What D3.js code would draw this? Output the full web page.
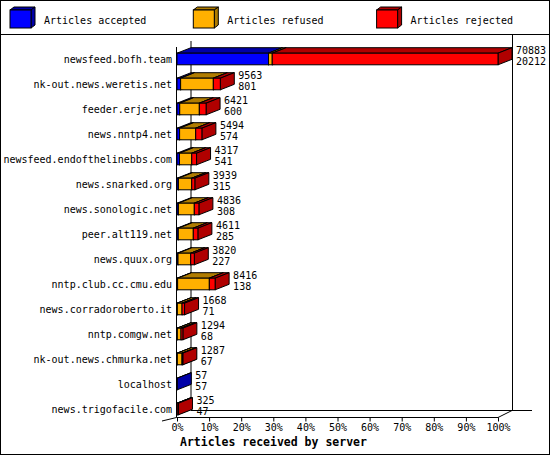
<!DOCTYPE html>
<meta charset="utf-8">
<script src="https://d3js.org/d3.v7.min.js"></script>
<style>
  body { margin: 0; background: #fff; }
  text { font-family: "DejaVu Sans Mono", "Liberation Mono", monospace; font-size: 10px; fill: #000; }
</style>
<div id="chart"></div>
<script>

// servers, top to bottom
var servers = ["newsfeed.bofh.team", "nk-out.news.weretis.net", "feeder.erje.net", "news.nntp4.net",
  "newsfeed.endofthelinebbs.com", "news.snarked.org", "news.sonologic.net", "peer.alt119.net",
  "news.quux.org", "nntp.club.cc.cmu.edu", "news.corradoroberto.it", "nntp.comgw.net",
  "nk-out.news.chmurka.net", "localhost", "news.trigofacile.com"];

// numbers printed next to the bars
var offered = [70883, 9563, 6421, 5494, 4317, 3939, 4836, 4611, 3820, 8416, 1668, 1294, 1287, 57, 325];
var accepted = [20212, 801, 600, 574, 541, 315, 308, 285, 227, 138, 71, 68, 67, 57, 47];

var refused = [815, 7220, 4330, 3555, 2716, 2937, 3511, 3312, 2804, 7000, 1038, 817, 1038, 0, 0];
var rejected = [49856, 1542, 1491, 1365, 1060, 687, 1017, 1014, 789, 1278, 559, 409, 182, 0, 278];

var seriesNames = ["Articles accepted", "Articles refused", "Articles rejected"];
var percentTicks = [0, 10, 20, 30, 40, 50, 60, 70, 80, 90, 100];

var front = ["#0000ff", "#ffb000", "#ff0000"];
var dark = ["#0000a8", "#b07c00", "#b00000"];

var W = 550, H = 455;
var x0 = 177, x1 = 498, dx = 14, dy = 5.5;

var svg = d3.select("#chart").append("svg")
  .attr("width", W).attr("height", H);

svg.append("rect").attr("x", 0.5).attr("y", 0.5).attr("width", W - 1).attr("height", H - 1)
  .attr("fill", "#fff").attr("stroke", "#000");
svg.append("line").attr("x1", 0).attr("x2", W).attr("y1", 34.5).attr("y2", 34.5).attr("stroke", "#000");

// legend
seriesNames.forEach(function(name, i) {
  var lx = 10 + i * 183.3, ly = 10, w = 21, h = 18, d = 4, e = 3;
  var g = svg.append("g");
  g.append("polygon").attr("points", [[lx, ly], [lx + w, ly], [lx + w + d, ly - e], [lx + d, ly - e]].join(" "))
    .attr("fill", dark[i]).attr("stroke", "#000");
  g.append("polygon").attr("points", [[lx + w, ly], [lx + w + d, ly - e], [lx + w + d, ly + h - e], [lx + w, ly + h]].join(" "))
    .attr("fill", dark[i]).attr("stroke", "#000");
  g.append("rect").attr("x", lx).attr("y", ly).attr("width", w).attr("height", h)
    .attr("fill", front[i]).attr("stroke", "#000");
  g.append("text").attr("x", lx + 34).attr("y", 23.5).text(name);
});

var maxTotal = d3.max(servers, function(s, i) { return accepted[i] + refused[i] + rejected[i]; });

var x = d3.scaleLinear().domain([0, 100]).range([x0, x1]);
var y = d3.scaleBand().domain(servers).range([46.5, 421.5]);

var floorFront = 417.5, floorBack = 410.5;

// frame
var frame = svg.append("g").attr("stroke", "#000").attr("fill", "none");
frame.append("line").attr("x1", x0 - 0.5).attr("x2", x0 - 0.5).attr("y1", 47).attr("y2", floorFront);
frame.append("line").attr("x1", x0 + dx).attr("x2", x0 + dx).attr("y1", 41).attr("y2", floorBack);
frame.append("line").attr("x1", x1 + dx + 0.5).attr("x2", x1 + dx + 0.5).attr("y1", 35).attr("y2", floorBack);
frame.append("line").attr("x1", x0 - 0.5).attr("x2", x1).attr("y1", floorFront).attr("y2", floorFront);
frame.append("line").attr("x1", x1).attr("x2", x1 + dx).attr("y1", floorFront).attr("y2", floorBack);
frame.append("line").attr("x1", x0 + dx).attr("x2", x1 + dx + 20).attr("y1", floorBack).attr("y2", floorBack);
frame.append("line").attr("x1", x0 - 15).attr("x2", x0 - 0.5).attr("y1", 421).attr("y2", floorFront);

// x axis
var ax = svg.append("g").attr("transform", "translate(0," + floorFront + ")")
  .call(d3.axisBottom(x).tickValues(percentTicks).tickSize(4).tickFormat(function(d) { return d + "%"; }));
ax.select(".domain").remove();
ax.selectAll("line").attr("stroke", "#000");
ax.selectAll("text").attr("font-family", null).attr("font-size", null).attr("dy", null).attr("y", 13.5);

svg.append("text").attr("x", 180).attr("y", 445.5)
  .style("font-weight", "bold").style("font-size", "11.5px")
  .text("Articles received by server");

// bars
servers.forEach(function(s, i) {
  var c = y(s) + y.bandwidth() / 2;
  var yt = c - 5.8, yb = c + 5.8;
  var vals = [accepted[i], refused[i], rejected[i]];
  var acc = 0;
  var g = svg.append("g").attr("stroke", "#000").attr("stroke-linejoin", "miter");
  vals.forEach(function(v, k) {
    if (v <= 0) return;
    var a = x(acc / maxTotal * 100), b = x((acc + v) / maxTotal * 100);
    acc += v;
    g.append("polygon").attr("points", [[a, yt], [b, yt], [b + dx, yt - dy], [a + dx, yt - dy]].join(" "))
      .attr("fill", dark[k]);
    g.append("polygon").attr("points", [[b, yt], [b + dx, yt - dy], [b + dx, yb - dy], [b, yb]].join(" "))
      .attr("fill", dark[k]);
    g.append("rect").attr("x", a).attr("y", yt).attr("width", b - a).attr("height", yb - yt)
      .attr("fill", front[k]);
  });
  var end = x(acc / maxTotal * 100) + dx + 4;
  svg.append("text").attr("x", end).attr("y", c - 5).text(offered[i]);
  svg.append("text").attr("x", end).attr("y", c + 6).text(accepted[i]);
  svg.append("text").attr("x", 172).attr("y", c + 4).attr("text-anchor", "end").text(s);
});

</script>
